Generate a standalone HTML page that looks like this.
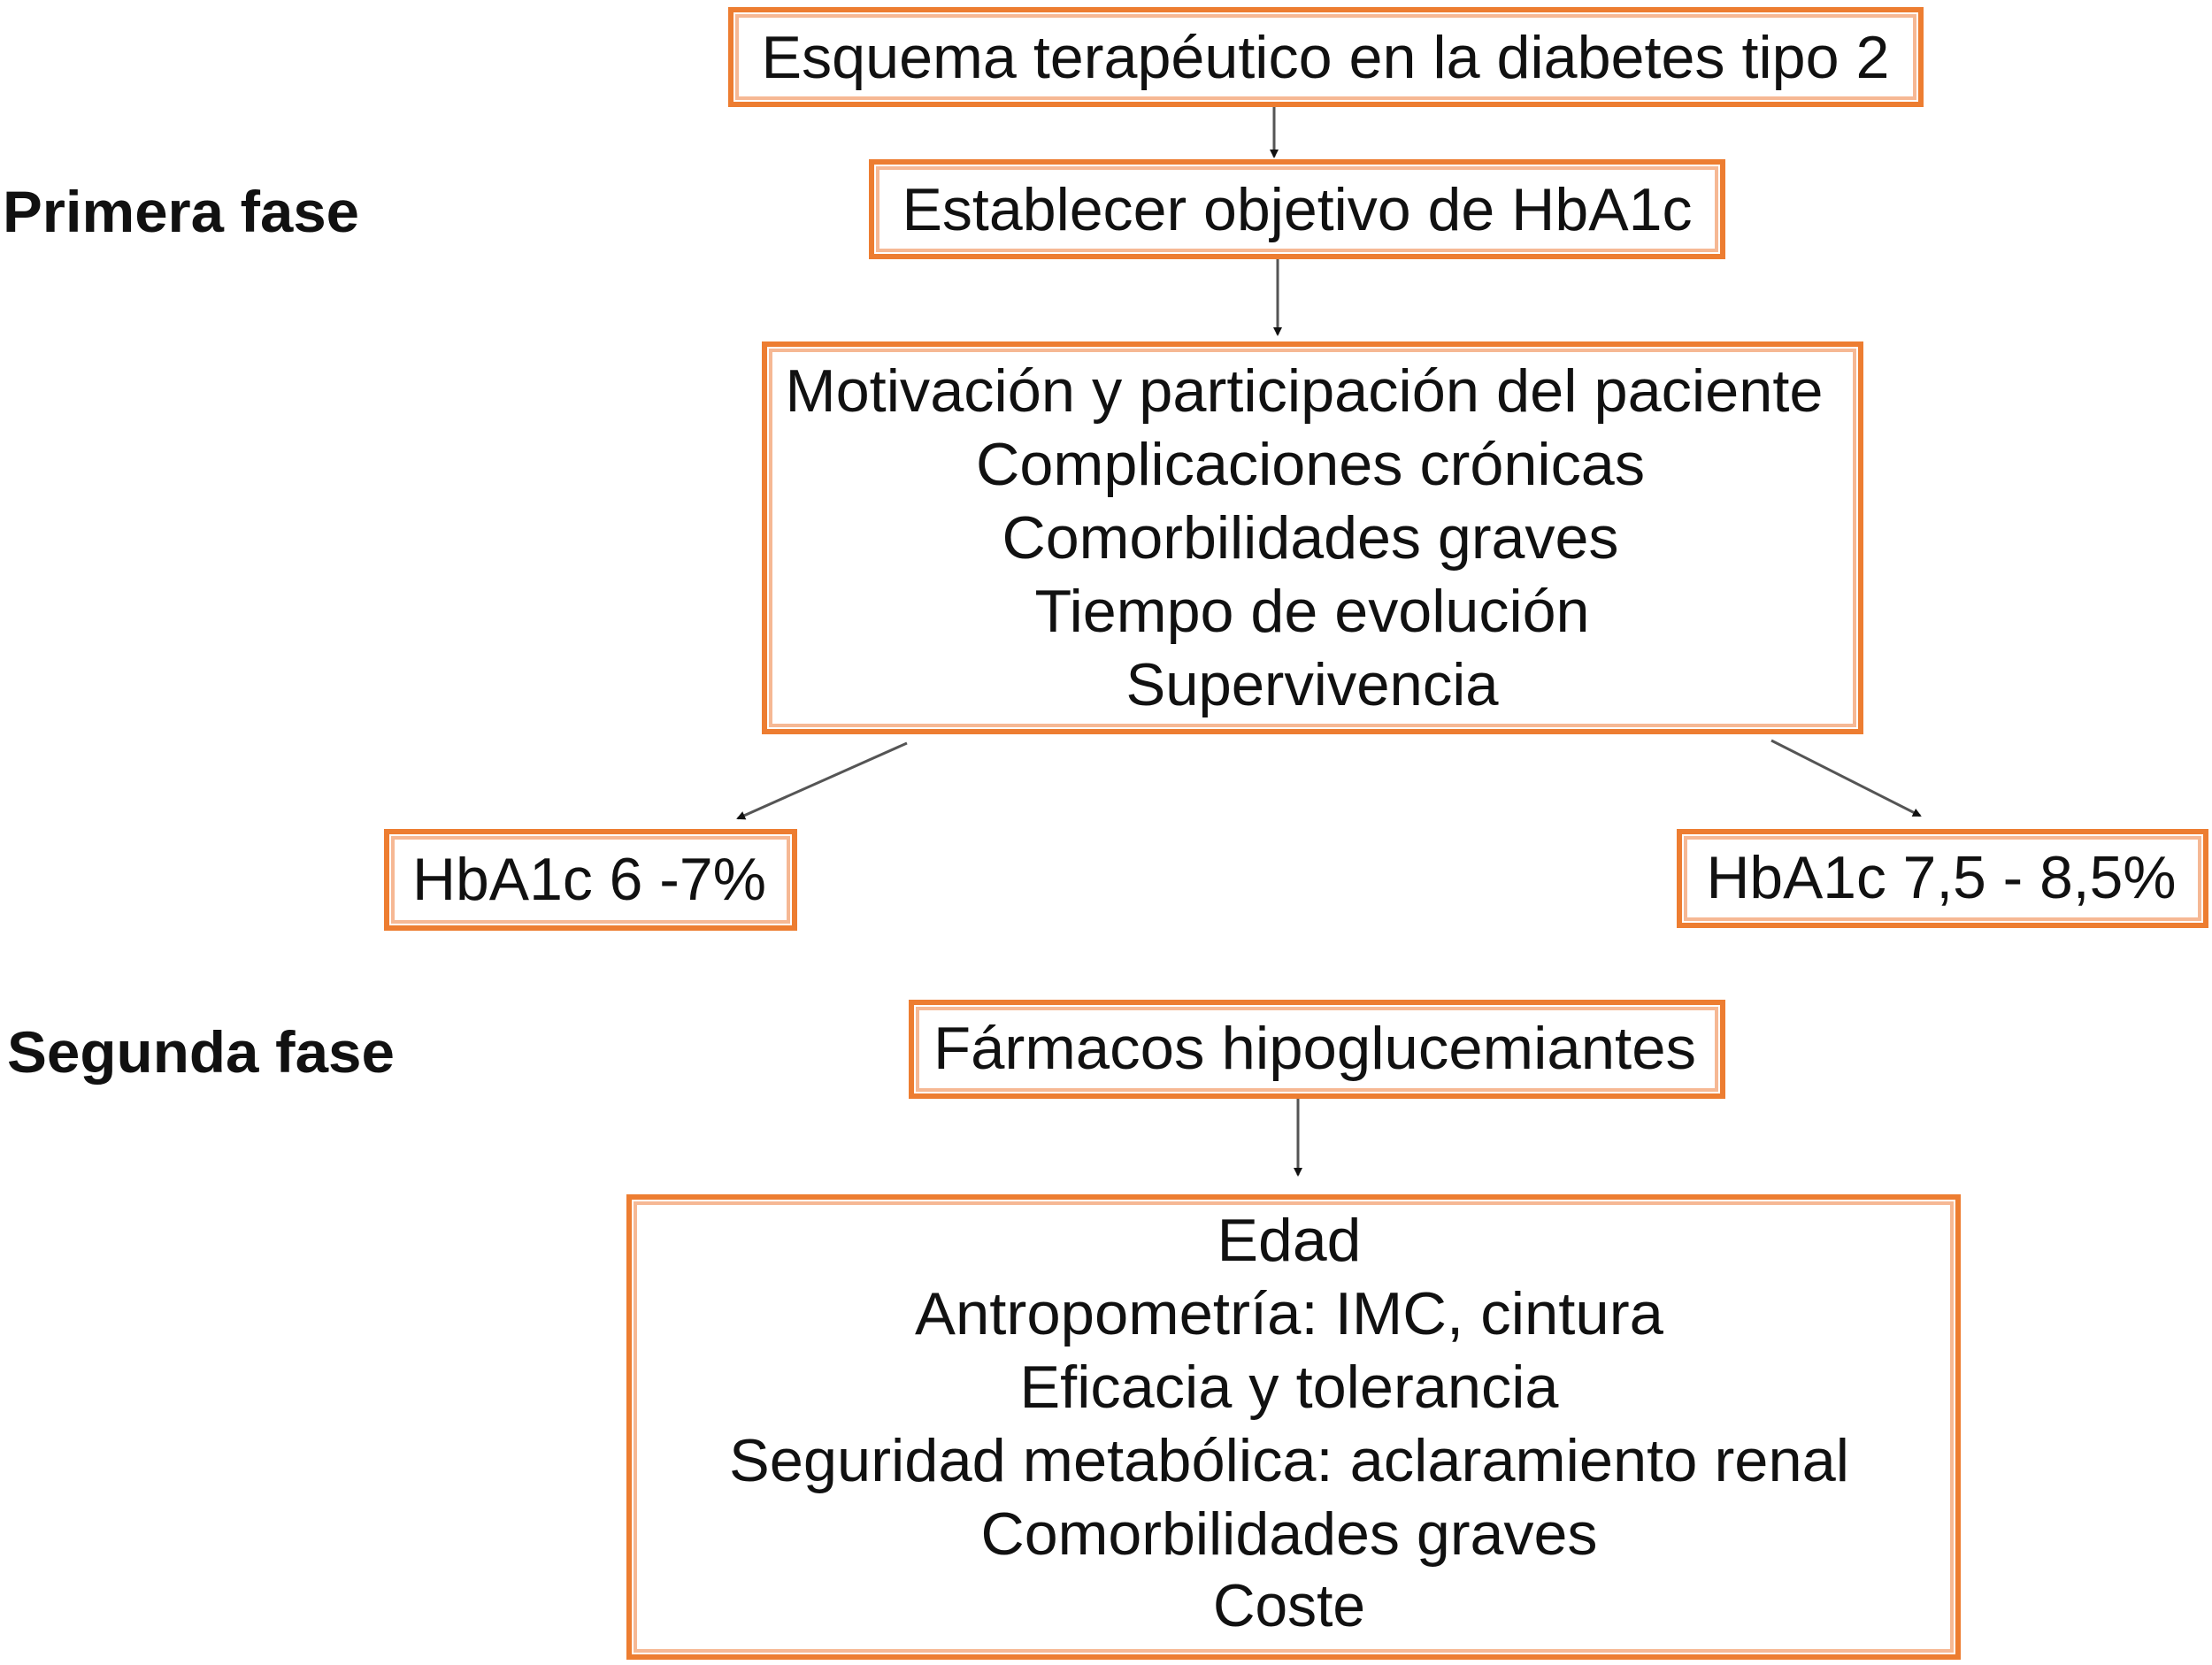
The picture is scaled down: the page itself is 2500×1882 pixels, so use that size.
<!DOCTYPE html>
<html><head><meta charset="utf-8"><style>
html,body{margin:0;padding:0;background:#fff;}
svg{display:block;}
text{font-family:"Liberation Sans",Arial,sans-serif;fill:#111;}
</style></head><body>
<svg width="2500" height="1882" viewBox="0 0 2500 1882" xmlns="http://www.w3.org/2000/svg">
<defs>
<marker id="ah" markerWidth="10" markerHeight="10" refX="8" refY="5" orient="auto" markerUnits="userSpaceOnUse"><path d="M0,0 L10,5 L0,10 z" fill="#111"/></marker>
</defs>
<g fill="none">
<!-- boxes: outer orange + light inner -->
<g stroke="#ED7D31" stroke-width="6">
<rect x="826" y="11" width="1345" height="107"/>
<rect x="985" y="183" width="962" height="107"/>
<rect x="864" y="389" width="1239" height="438"/>
<rect x="437" y="940" width="461" height="109"/>
<rect x="1898" y="940" width="595" height="106"/>
<rect x="1030" y="1133" width="917" height="106"/>
<rect x="711" y="1353" width="1502" height="520"/>
</g>
<g stroke="#F6B894" stroke-width="4">
<rect x="833" y="18" width="1331" height="93"/>
<rect x="992" y="190" width="948" height="93"/>
<rect x="871" y="396" width="1225" height="424"/>
<rect x="444" y="947" width="447" height="95"/>
<rect x="1905" y="947" width="581" height="92"/>
<rect x="1037" y="1140" width="903" height="92"/>
<rect x="718" y="1360" width="1488" height="506"/>
</g>
<g stroke="#555" stroke-width="3" marker-end="url(#ah)">
<line x1="1440" y1="121" x2="1440" y2="177"/>
<line x1="1444" y1="293" x2="1444" y2="378"/>
<line x1="1025" y1="840" x2="834" y2="925"/>
<line x1="2002" y1="837" x2="2170" y2="922"/>
<line x1="1467" y1="1242" x2="1467" y2="1328"/>
</g>
</g>
<g font-size="68" text-anchor="middle" lengthAdjust="spacingAndGlyphs">
<text x="1498" y="88" textLength="1275" lengthAdjust="spacingAndGlyphs">Esquema terapéutico en la diabetes tipo 2</text>
<text x="1466" y="260" textLength="893" lengthAdjust="spacingAndGlyphs">Establecer objetivo de HbA1c</text>
<text x="1474" y="465" textLength="1173" lengthAdjust="spacingAndGlyphs">Motivación y participación del paciente</text>
<text x="1481" y="548" textLength="756" lengthAdjust="spacingAndGlyphs">Complicaciones crónicas</text>
<text x="1481" y="631" textLength="697" lengthAdjust="spacingAndGlyphs">Comorbilidades graves</text>
<text x="1483" y="714" textLength="627" lengthAdjust="spacingAndGlyphs">Tiempo de evolución</text>
<text x="1483" y="797" textLength="421" lengthAdjust="spacingAndGlyphs">Supervivencia</text>
<text x="666" y="1017" textLength="400" lengthAdjust="spacingAndGlyphs">HbA1c 6 -7%</text>
<text x="2194" y="1015" textLength="531" lengthAdjust="spacingAndGlyphs">HbA1c 7,5 - 8,5%</text>
<text x="1486" y="1208" textLength="862" lengthAdjust="spacingAndGlyphs">Fármacos hipoglucemiantes</text>
<text x="1457" y="1425" textLength="163" lengthAdjust="spacingAndGlyphs">Edad</text>
<text x="1457" y="1508" textLength="846" lengthAdjust="spacingAndGlyphs">Antropometría: IMC, cintura</text>
<text x="1457" y="1591" textLength="609" lengthAdjust="spacingAndGlyphs">Eficacia y tolerancia</text>
<text x="1457" y="1674" textLength="1266" lengthAdjust="spacingAndGlyphs">Seguridad metabólica: aclaramiento renal</text>
<text x="1457" y="1757" textLength="697" lengthAdjust="spacingAndGlyphs">Comorbilidades graves</text>
<text x="1457" y="1838" textLength="172" lengthAdjust="spacingAndGlyphs">Coste</text>
</g>
<g font-size="66" font-weight="bold">
<text x="3" y="262" textLength="403" lengthAdjust="spacingAndGlyphs">Primera fase</text>
<text x="8" y="1212" textLength="438" lengthAdjust="spacingAndGlyphs">Segunda fase</text>
</g>
</svg>
</body></html>
